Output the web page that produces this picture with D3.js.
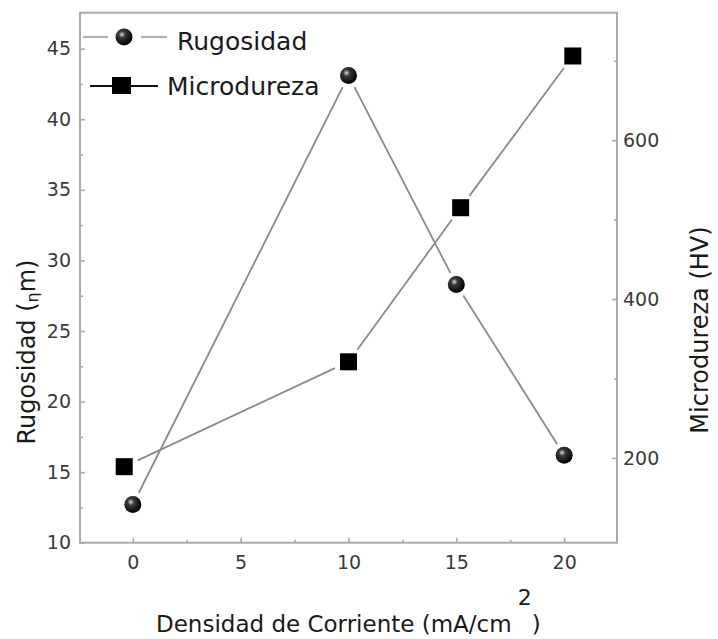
<!DOCTYPE html>
<html><head><meta charset="utf-8">
<script src="https://cdn.jsdelivr.net/npm/d3@7"></script>
<style>body{margin:0;background:#fff}svg{display:block}</style>
</head><body>
<svg id="c" width="718" height="639"></svg>
<script>
// ---- data ----
const rugX = [0, 10, 15, 20];
const rugY = [12.7, 43.1, 28.3, 16.2];
const micX = [-0.4, 10, 15.2, 20.4];
const micY = [189, 321, 515, 706];
const xTicks = [0, 5, 10, 15, 20];
const xMinor = [2.5, 7.5, 12.5, 17.5];
const yLeftTicks = [10, 15, 20, 25, 30, 35, 40, 45];
const yLeftMinor = [12.5, 17.5, 22.5, 27.5, 32.5, 37.5, 42.5];
const yRightTicks = [200, 400, 600];
const yRightMinor = [300, 500, 700];
const seriesNames = ["Rugosidad", "Microdureza"];

const svg = d3.select("#c");
const FONT = "'DejaVu Sans', Verdana, sans-serif";
const L = 80, R = 617, T = 12.7, B = 542.7;

const x = d3.scaleLinear().domain([-2.45, 22.45]).range([L, R]);
const yL = d3.scaleLinear().domain([10, 47.55]).range([B, T]);
const yR = d3.scaleLinear().domain([93.3, 760.5]).range([B, T]);

const defs = svg.append("defs");
const g = defs.append("radialGradient").attr("id", "sph").attr("cx", "38%").attr("cy", "35%").attr("r", "65%");
g.append("stop").attr("offset", "0%").attr("stop-color", "#d8d8d8");
g.append("stop").attr("offset", "30%").attr("stop-color", "#3a3a3a");
g.append("stop").attr("offset", "100%").attr("stop-color", "#000");

const AX = "#ababab";
function styleAxis(sel) {
  sel.select(".domain").remove();
  sel.selectAll(".tick line").attr("stroke", AX).attr("stroke-width", 1.6);
  sel.selectAll(".tick text").attr("fill", "#3a3a3a").style("font-family", FONT).style("font-size", "19px");
}
svg.append("g").attr("transform", `translate(0,${B})`)
  .call(d3.axisBottom(x).tickValues(xTicks).tickSize(-5).tickPadding(13).tickFormat(d3.format("d")))
  .call(styleAxis);
svg.append("g").attr("transform", `translate(0,${B})`)
  .call(d3.axisBottom(x).tickValues(xMinor).tickSize(-3).tickFormat(""))
  .call(styleAxis);
svg.append("g").attr("transform", `translate(${L},0)`)
  .call(d3.axisLeft(yL).tickValues(yLeftTicks).tickSize(-5).tickPadding(9).tickFormat(d3.format("d")))
  .call(styleAxis);
svg.append("g").attr("transform", `translate(${L},0)`)
  .call(d3.axisLeft(yL).tickValues(yLeftMinor).tickSize(-3).tickFormat(""))
  .call(styleAxis);
svg.append("g").attr("transform", `translate(${R},0)`)
  .call(d3.axisRight(yR).tickValues(yRightTicks).tickSize(-5).tickPadding(6).tickFormat(d3.format("d")))
  .call(styleAxis);
svg.append("g").attr("transform", `translate(${R},0)`)
  .call(d3.axisRight(yR).tickValues(yRightMinor).tickSize(-3).tickFormat(""))
  .call(styleAxis);

svg.append("rect").attr("x", L).attr("y", T).attr("width", R - L).attr("height", B - T)
  .attr("fill", "none").attr("stroke", AX).attr("stroke-width", 2);

function gappedSegments(pts, gap) {
  const segs = [];
  for (let i = 0; i < pts.length - 1; i++) {
    const [x1, y1] = pts[i], [x2, y2] = pts[i + 1];
    const dx = x2 - x1, dy = y2 - y1, len = Math.hypot(dx, dy);
    const ux = dx / len, uy = dy / len;
    segs.push([x1 + ux * gap, y1 + uy * gap, x2 - ux * gap, y2 - uy * gap]);
  }
  return segs;
}
const rugPts = rugX.map((v, i) => [x(v), yL(rugY[i])]);
const micPts = micX.map((v, i) => [x(v), yR(micY[i])]);

svg.append("g").selectAll("line").data(gappedSegments(rugPts, 13)).join("line")
  .attr("x1", d => d[0]).attr("y1", d => d[1]).attr("x2", d => d[2]).attr("y2", d => d[3])
  .attr("stroke", "#8a8a8a").attr("stroke-width", 1.8);
svg.append("g").selectAll("line").data(gappedSegments(micPts, 15)).join("line")
  .attr("x1", d => d[0]).attr("y1", d => d[1]).attr("x2", d => d[2]).attr("y2", d => d[3])
  .attr("stroke", "#8a8a8a").attr("stroke-width", 1.8);

svg.append("g").selectAll("rect").data(micPts).join("rect")
  .attr("x", d => d[0] - 8.5).attr("y", d => d[1] - 8.5).attr("width", 17).attr("height", 17)
  .attr("fill", "#000");
svg.append("g").selectAll("circle").data(rugPts).join("circle")
  .attr("cx", d => d[0]).attr("cy", d => d[1]).attr("r", 8.5).attr("fill", "url(#sph)");

// legend
const lg = svg.append("g");
lg.append("line").attr("x1", 83).attr("x2", 108).attr("y1", 37).attr("y2", 37).attr("stroke", "#b0b0b0").attr("stroke-width", 2.2);
lg.append("line").attr("x1", 141).attr("x2", 167).attr("y1", 37).attr("y2", 37).attr("stroke", "#b0b0b0").attr("stroke-width", 2.2);
lg.append("circle").attr("cx", 124).attr("cy", 37).attr("r", 8.5).attr("fill", "url(#sph)");
lg.append("text").attr("x", 177).attr("y", 50).text(seriesNames[0])
  .style("font-family", FONT).style("font-size", "25px").attr("fill", "#1a1a1a");
lg.append("line").attr("x1", 90).attr("x2", 158).attr("y1", 86).attr("y2", 86).attr("stroke", "#111").attr("stroke-width", 2);
lg.append("rect").attr("x", 112).attr("y", 77).attr("width", 19).attr("height", 17).attr("fill", "#000");
lg.append("text").attr("x", 167).attr("y", 95).text(seriesNames[1])
  .style("font-family", FONT).style("font-size", "25px").attr("fill", "#1a1a1a");

// axis titles
const lt = svg.append("text").attr("transform", "translate(35,352) rotate(-90)").attr("text-anchor", "middle")
  .style("font-family", FONT).style("font-size", "24px").attr("fill", "#1a1a1a");
lt.append("tspan").text("Rugosidad (");
lt.append("tspan").text("η").style("font-size", "16px").attr("dy", 3);
lt.append("tspan").text("m)").attr("dy", -3);

svg.append("text").attr("transform", "translate(708,330) rotate(-90)").attr("text-anchor", "middle")
  .style("font-family", FONT).style("font-size", "24px").attr("fill", "#1a1a1a").text("Microdureza (HV)");

const bt = svg.append("text").attr("x", 156).attr("y", 632)
  .style("font-family", FONT).style("font-size", "23px").attr("fill", "#1a1a1a");
bt.append("tspan").text("Densidad de Corriente (mA/cm");
bt.append("tspan").text(")").attr("dx", 20);
const mainW = bt.select("tspan").node().getComputedTextLength();
svg.append("text").attr("x", 156 + mainW + 6).attr("y", 605)
  .style("font-family", FONT).style("font-size", "22px").attr("fill", "#1a1a1a").text("2");
</script>
</body></html>
